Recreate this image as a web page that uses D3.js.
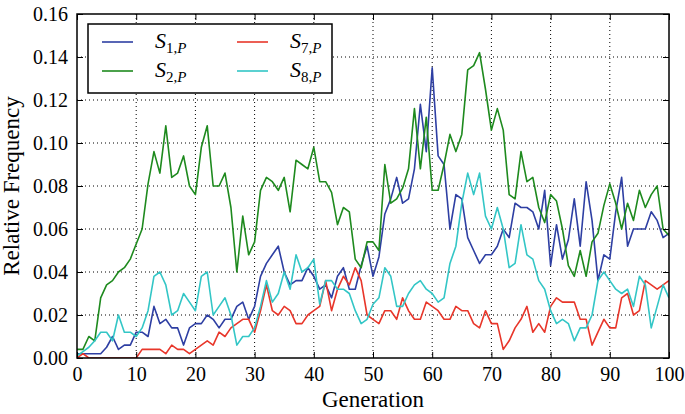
<!DOCTYPE html>
<html><head><meta charset="utf-8">
<script src="https://cdn.jsdelivr.net/npm/d3@7"></script>
<style>body{margin:0;background:#fff}svg{display:block}</style>
</head><body>
<script>
const generations = d3.range(0, 101);
const s1 = [0.002,0.002,0.002,0.002,0.002,0.005,0.010,0.004,0.006,0.006,
 0.012,0.012,0.010,0.024,0.016,0.018,0.014,0.014,0.006,0.014,
 0.016,0.016,0.020,0.018,0.014,0.018,0.018,0.024,0.026,0.018,
 0.024,0.038,0.044,0.048,0.052,0.040,0.034,0.036,0.036,0.042,
 0.038,0.032,0.034,0.028,0.038,0.042,0.032,0.032,0.043,0.052,
 0.038,0.047,0.067,0.074,0.084,0.072,0.074,0.088,0.118,0.096,
 0.135,0.094,0.090,0.060,0.076,0.074,0.056,0.050,0.044,0.048,
 0.048,0.052,0.060,0.056,0.072,0.070,0.070,0.068,0.060,0.078,
 0.043,0.062,0.046,0.055,0.074,0.052,0.082,0.064,0.036,0.048,
 0.046,0.068,0.084,0.052,0.060,0.060,0.060,0.068,0.064,0.056,0.058];
const s2 = [0.004,0.004,0.010,0.008,0.028,0.034,0.036,0.040,0.042,0.046,
 0.053,0.060,0.081,0.096,0.086,0.108,0.084,0.086,0.094,0.080,
 0.076,0.098,0.108,0.080,0.080,0.086,0.070,0.040,0.066,0.048,
 0.054,0.078,0.084,0.082,0.078,0.084,0.068,0.092,0.090,0.088,
 0.098,0.082,0.082,0.077,0.062,0.070,0.068,0.046,0.042,0.054,
 0.054,0.050,0.090,0.072,0.074,0.079,0.088,0.116,0.088,0.112,
 0.078,0.078,0.090,0.104,0.096,0.104,0.134,0.136,0.142,0.125,
 0.106,0.116,0.106,0.076,0.074,0.096,0.082,0.084,0.070,0.063,
 0.076,0.073,0.060,0.043,0.038,0.050,0.038,0.054,0.058,0.071,
 0.081,0.072,0.060,0.072,0.064,0.078,0.070,0.076,0.080,0.060,0.057];
const s7 = [0.000,0.002,0.000,0.000,0.000,0.000,0.000,0.000,0.000,0.000,
 0.000,0.004,0.004,0.004,0.004,0.002,0.006,0.004,0.004,0.002,
 0.004,0.006,0.008,0.006,0.012,0.010,0.014,0.016,0.018,0.018,
 0.012,0.022,0.034,0.022,0.020,0.024,0.022,0.016,0.016,0.020,
 0.022,0.024,0.036,0.022,0.032,0.038,0.034,0.042,0.036,0.020,
 0.018,0.016,0.022,0.022,0.018,0.028,0.022,0.018,0.018,0.026,
 0.024,0.022,0.018,0.018,0.024,0.022,0.022,0.016,0.014,0.022,
 0.016,0.016,0.004,0.008,0.014,0.018,0.024,0.012,0.016,0.012,
 0.024,0.028,0.026,0.026,0.026,0.018,0.018,0.006,0.012,0.018,
 0.014,0.014,0.028,0.030,0.020,0.022,0.036,0.034,0.032,0.034,0.036];
const s8 = [0.001,0.003,0.005,0.008,0.012,0.012,0.008,0.020,0.012,0.012,
 0.010,0.014,0.022,0.038,0.040,0.034,0.020,0.022,0.030,0.026,
 0.022,0.038,0.040,0.020,0.024,0.028,0.020,0.006,0.010,0.010,
 0.014,0.024,0.036,0.026,0.030,0.040,0.032,0.048,0.040,0.042,
 0.046,0.025,0.036,0.036,0.032,0.032,0.030,0.022,0.016,0.018,
 0.025,0.028,0.042,0.038,0.024,0.024,0.030,0.034,0.036,0.032,
 0.030,0.026,0.028,0.044,0.052,0.072,0.086,0.076,0.086,0.066,
 0.060,0.070,0.060,0.042,0.044,0.062,0.048,0.046,0.036,0.032,
 0.022,0.016,0.018,0.016,0.008,0.014,0.014,0.020,0.036,0.040,
 0.036,0.032,0.030,0.032,0.024,0.038,0.034,0.014,0.024,0.034,0.028];
const xTicks = [0,10,20,30,40,50,60,70,80,90,100];
const yTicks = [0,0.02,0.04,0.06,0.08,0.10,0.12,0.14,0.16];
const seriesNames = [["1","P"],["2","P"],["7","P"],["8","P"]];
const seriesColors = ["#2e3fa3","#1e8a1e","#e8362a","#33c6c6"];
const seriesData = [s1, s2, s7, s8];

const W = 685, H = 414;
const L = 77, R = 669, T = 14, B = 358;
const svg = d3.select("body").append("svg").attr("width", W).attr("height", H);
const x = d3.scaleLinear().domain([0,100]).range([L,R]);
const y = d3.scaleLinear().domain([0,0.16]).range([B,T]);
const font = "'Liberation Serif','DejaVu Serif',serif";

// grid
const grid = svg.append("g");
grid.selectAll(".gx").data(xTicks.slice(1,-1)).join("line")
  .attr("x1", d=>x(d)).attr("x2", d=>x(d)).attr("y1", T).attr("y2", B)
  .attr("stroke","#000").attr("stroke-width",1).attr("stroke-dasharray","1,3");
grid.selectAll(".gy").data(yTicks.slice(1,-1)).join("line")
  .attr("y1", d=>y(d)).attr("y2", d=>y(d)).attr("x1", L).attr("x2", R)
  .attr("stroke","#000").attr("stroke-width",1).attr("stroke-dasharray","1,3");

// lines
const clip = svg.append("clipPath").attr("id","c").append("rect")
  .attr("x",L).attr("y",T).attr("width",R-L).attr("height",B-T);
const line = d3.line().x((d,i)=>x(generations[i])).y(d=>y(d));
const lg = svg.append("g").attr("clip-path","url(#c)");
seriesData.forEach((s,k)=>{
  lg.append("path").datum(s).attr("d", line).attr("fill","none")
    .attr("stroke", seriesColors[k]).attr("stroke-width",1.6).attr("stroke-linejoin","round");
});

// axes
const ax = svg.append("g").attr("transform",`translate(0,${B})`)
  .call(d3.axisBottom(x).tickValues(xTicks).tickSize(-6).tickPadding(9).tickFormat(d3.format("d")));
const axT = svg.append("g").attr("transform",`translate(0,${T})`)
  .call(d3.axisTop(x).tickValues(xTicks).tickSize(-6).tickFormat(""));
const ay = svg.append("g").attr("transform",`translate(${L},0)`)
  .call(d3.axisLeft(y).tickValues(yTicks).tickSize(-6).tickPadding(9).tickFormat(d3.format(".2f")));
const ayR = svg.append("g").attr("transform",`translate(${R},0)`)
  .call(d3.axisRight(y).tickValues(yTicks).tickSize(-6).tickFormat(""));
[ax,axT,ay,ayR].forEach(g=>{
  g.select(".domain").remove();
  g.selectAll(".tick line").attr("stroke","#000").attr("stroke-width",1);
  g.selectAll("text").attr("font-family",font).attr("font-size",20).attr("fill","#000");
});
svg.append("rect").attr("x",L).attr("y",T).attr("width",R-L).attr("height",B-T)
  .attr("fill","none").attr("stroke","#000").attr("stroke-width",1.5);

// axis titles
svg.append("text").attr("x",(L+R)/2).attr("y",407).attr("text-anchor","middle")
  .attr("font-family",font).attr("font-size",23).text("Generation");
svg.append("text").attr("transform",`translate(19,${(T+B)/2}) rotate(-90)`)
  .attr("text-anchor","middle").attr("font-family",font).attr("font-size",23).text("Relative Frequency");

// legend
const leg = svg.append("g");
leg.append("rect").attr("x",88).attr("y",24).attr("width",244).attr("height",69)
  .attr("fill","#fff").attr("stroke","#000").attr("stroke-width",1.5);
const pos = [[102,42],[102,71],[237,42],[237,71]];
seriesNames.forEach((n,k)=>{
  const [lx,ly] = pos[k];
  leg.append("line").attr("x1",lx).attr("x2",lx+31).attr("y1",ly).attr("y2",ly)
    .attr("stroke",seriesColors[k]).attr("stroke-width",1.6);
  const t = leg.append("text").attr("x",lx+53).attr("y",ly+6)
    .attr("font-family",font).attr("font-size",22);
  t.append("tspan").attr("font-style","italic").text("S");
  t.append("tspan").attr("font-size",15).attr("dy",5).text(n[0]+",");
  t.append("tspan").attr("font-size",15).attr("font-style","italic").text(n[1]);
});
</script>
</body></html>
